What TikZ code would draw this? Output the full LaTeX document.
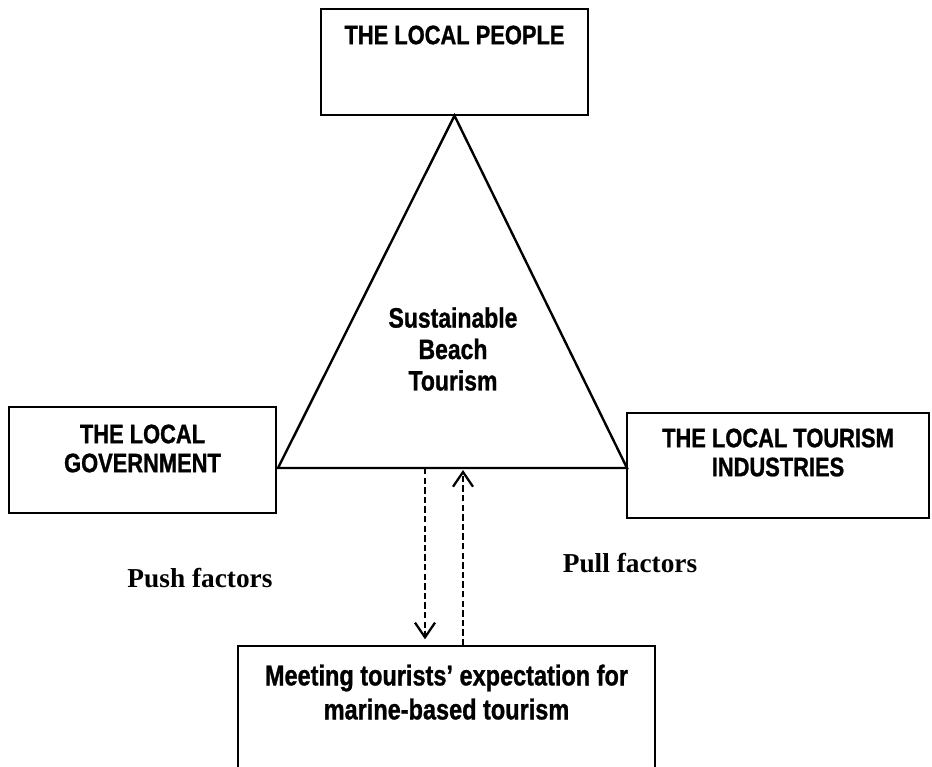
\documentclass[tikz,border=0pt]{standalone}
\usepackage{fontspec}
\setmainfont{Liberation Serif}
\newfontfamily\narrowsans[FakeStretch=0.82,FakeBold=1]{Liberation Sans}
\usetikzlibrary{arrows.meta,positioning}

\tikzset{
	actorbox/.style={draw, line width=1pt, inner sep=0pt},
	actortext/.style={inner sep=0pt, align=center, font=\narrowsans\bfseries\fontsize{20}{21.75}\selectfont},
	factor/.style={inner sep=0pt, anchor=base, font=\bfseries\fontsize{20.5}{24}\selectfont},
	flow/.style={dashed, dash pattern=on 4.8pt off 2.4pt, line width=1.7pt, -{Straight Barb[length=11pt,width=15pt,line width=1.7pt]}},
}

\begin{document}
\begin{tikzpicture}[x=0.75pt, y=-0.75pt]
		\useasboundingbox (0,0) rectangle (932,767);
		\clip (0,0) rectangle (932,767);
		% the four boxes
		\node[actorbox, minimum width=200.25pt, minimum height=79.5pt] (people) at (454.5,62) {};
		\node[actorbox, minimum width=200.25pt, minimum height=79.5pt] (gov) at (142.5,460) {};
		\node[actorbox, minimum width=226.5pt, minimum height=78.75pt] (industry) at (778,465.5) {};
		\node[actorbox, minimum width=312.75pt, minimum height=108pt] (meeting) at (446.5,718) {};
		\node[actortext, below=12.75pt of people.north] (peopletxt) {THE LOCAL PEOPLE};
		\node[actortext, below=13.5pt of gov.north] (govtxt) {THE LOCAL\\GOVERNMENT};
		\node[actortext, below=12pt of industry.north] (industrytxt) {THE LOCAL TOURISM\\INDUSTRIES};
		\node[actortext, font=\narrowsans\bfseries\fontsize{21.5}{25.5}\selectfont, below=14.25pt of meeting.north] (meetingtxt) {Meeting tourists’ expectation for\\marine-based tourism};
		% triangle
		\coordinate (baseL) at (278,468);
		\coordinate (baseR) at (627,468);
		\draw[line width=1.8pt, line join=miter] (people.south) -- (baseL) -- (baseR) -- cycle;
		\node[actortext, font=\narrowsans\bfseries\fontsize{21}{23.6}\selectfont, anchor=north] (sbt) at (453,307) {Sustainable\\Beach\\Tourism};
		% push and pull
		\coordinate (pushtop) at (425,468);
		\coordinate (pulltop) at (463,468);
		\draw[flow, shorten >=4.5pt] (pushtop) -- (pushtop |- meeting.north);
		\draw[flow, shorten >=1.5pt] (pulltop |- meeting.north) -- (pulltop);
		\node[factor] (push) at (200,587) {Push factors};
		\node[factor] (pull) at (630,572) {Pull factors};
		\end{tikzpicture}
\end{document}
